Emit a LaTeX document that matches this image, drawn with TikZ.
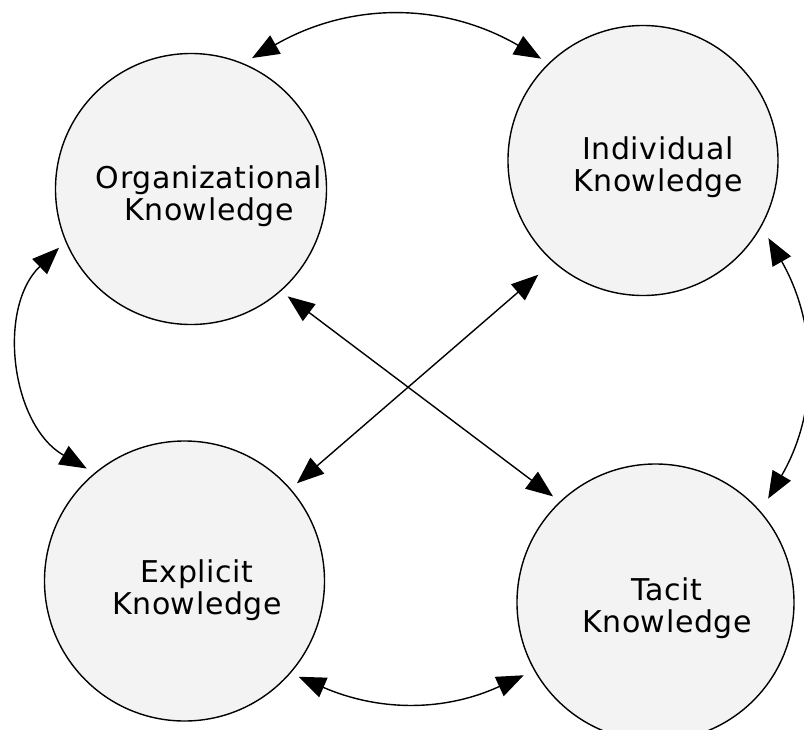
\documentclass[tikz,border=0pt]{standalone}
\usepackage{fontspec}
\setmainfont{DejaVu Sans}[LetterSpace=2]
\usepackage{tikz}
\usetikzlibrary{arrows.meta,shapes,positioning,calc}
\definecolor{circfill}{HTML}{F3F3F3}

\begin{document}
\begin{tikzpicture}[x=1pt,y=-1pt,
		know/.style={circle,draw,line width=1.4pt,fill=circfill,inner sep=0pt,outer sep=9pt},
		lbl/.style={align=center,font=\fontsize{30}{32}\selectfont},
		link/.style={{Triangle[length=27pt,width=21pt]}-{Triangle[length=27pt,width=21pt]},line width=1.4pt}]
		\useasboundingbox (0,0) rectangle (804,729);

		\node[know,minimum size=271pt] (Org) at (191,189) {};
		\node[know,minimum size=270pt] (Ind) at (643,160.5) {};
		\node[know,minimum size=280pt] (Exp) at (184.5,581) {};
		\node[know,minimum size=277pt] (Tac) at (655.5,602.5) {};

		\node[lbl] (OrgT) at ([shift={(18,7)}]Org.center) {Organizational\\Knowledge};
		\node[lbl] (IndT) at ([shift={(15,6.5)}]Ind.center) {Individual\\Knowledge};
		\node[lbl] (ExpT) at ([shift={(12.5,9)}]Exp.center) {Explicit\\Knowledge};
		\node[lbl] (TacT) at ([shift={(11.5,5.5)}]Tac.center) {Tacit\\Knowledge};

		\draw[link] (Org.65) to [bend left=30] (Ind.135);
		\draw[link] (Org.204) to [bend right=53] (Exp.131);
		\draw[link, shorten <=4pt, shorten >=6pt] (Ind.329) to [bend left=30] (Tac.42);
		\draw[link, shorten >=3pt] (Exp.320) to [bend right=24] (Tac.209);
		\draw[link] (Org.-48) -- (Tac.134);
		\draw[link, shorten <=11pt] (Ind.228) -- (Exp.41);
	\end{tikzpicture}
\end{document}
